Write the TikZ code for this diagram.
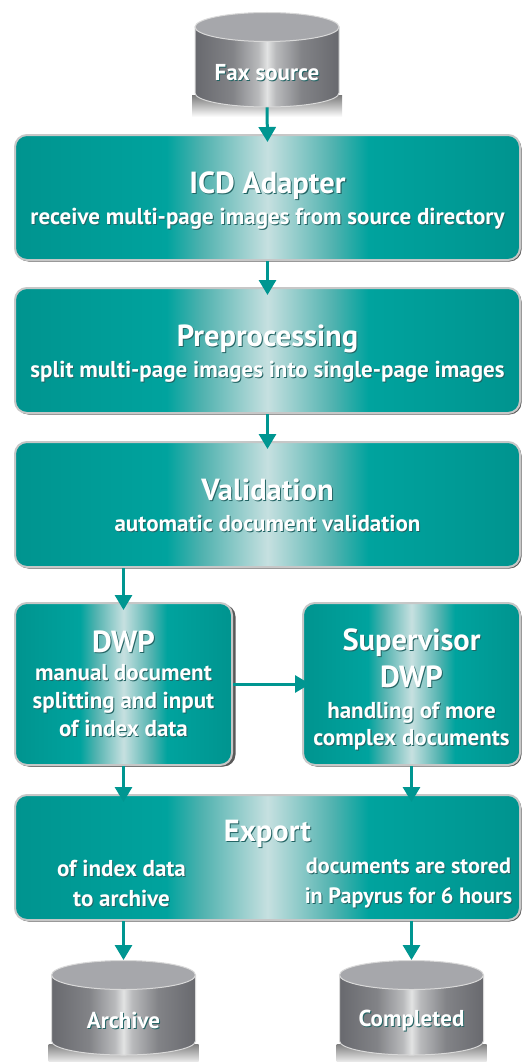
\documentclass[tikz,border=0pt]{standalone}
\usepackage{fontspec}
\setmainfont{PT Sans}
\usetikzlibrary{arrows.meta,shadows}
\definecolor{tealedge}{RGB}{0,148,143}
\definecolor{tealmain}{RGB}{0,163,158}
\definecolor{tealmid}{RGB}{80,178,175}
\definecolor{tealpale}{RGB}{198,224,224}
\definecolor{tealline}{RGB}{0,150,145}
\definecolor{tealdark}{RGB}{35,100,100}
\definecolor{drumedge}{RGB}{104,105,110}
\definecolor{drummain}{RGB}{130,131,135}
\definecolor{drummid}{RGB}{185,186,188}
\definecolor{drumpale}{RGB}{226,227,227}
\definecolor{drumtop}{RGB}{166,167,171}
\pgfdeclarehorizontalshading{tealbar}{100bp}{
  color(0bp)=(tealedge); color(25bp)=(tealedge); color(40bp)=(tealmain);
  color(43.5bp)=(tealmid); color(50bp)=(tealpale); color(56.5bp)=(tealmid);
  color(60bp)=(tealmain); color(75bp)=(tealedge); color(100bp)=(tealedge)}
\pgfdeclarehorizontalshading{drumbar}{100bp}{
  color(0bp)=(drumedge); color(25bp)=(drumedge); color(38bp)=(drummain);
  color(47bp)=(drummid); color(50bp)=(drumpale); color(53bp)=(drummid);
  color(62bp)=(drummain); color(75bp)=(drumedge); color(100bp)=(drumedge)}
\tikzset{
  stage/.style={
    rectangle,rounded corners=12pt,shading=tealbar,
    draw=black!22,line width=2pt,inner sep=0pt,
    minimum width=505pt,minimum height=125pt,
    drop shadow={shadow xshift=1.5pt,shadow yshift=-1.5pt,fill=black!65,opacity=1}
  },
  small stage/.style={stage,minimum width=217pt,minimum height=162pt},
  caption/.style={text=white,align=center,inner sep=0pt,font=\bfseries\fontsize{23}{28}\selectfont},
  flow/.style={draw=tealline,line width=3pt,-{Triangle[width=17pt,length=15pt]}},
  flow in/.style={flow,shorten >=-8pt}
}
\newcommand{\shd}[1]{\leavevmode\rlap{\kern1pt\raisebox{-1pt}{\color{tealdark}#1}}#1}
\newcommand{\head}[1]{{\fontsize{30.5}{32}\selectfont\shd{#1}}}
% name, centre x, top y, label
\newcommand{\drum}[4]{
  \shade[top color=black!50,bottom color=white] (#2-75,#3+84) rectangle (#2+75,#3+105);
  \path[shading=drumbar,draw=black!15,line width=1pt]
    (#2-72,#3+15) -- (#2-72,#3+81)
    arc[start angle=180,end angle=0,x radius=72,y radius=14]
    -- (#2+72,#3+15) -- cycle;
  \path[fill=drumtop,draw=black!15,line width=1pt]
    (#2,#3+15) ellipse[x radius=72,y radius=14.5];
  \node[minimum width=144pt,minimum height=95pt,anchor=north,inner sep=0pt] (#1) at (#2,#3) {};
  \node[caption] (#1label) at (#2,#3+61) {\shd{#4}};
}

\begin{document}
\begin{tikzpicture}[x=1pt,y=-1pt]
  \useasboundingbox (0,0) rectangle (523,1062);

  % the stores
  \drum{fax}{267}{12}{Fax source}
  \drum{archive}{123.5}{960}{Archive}
  \drum{completed}{411.5}{960}{Completed}

  % the stages
  \node[stage] (icd) at (267.5,197.5) {};
  \node[stage] (prep) at (267.5,350.5) {};
  \node[stage] (valid) at (267.5,504.5) {};
  \node[small stage,drop shadow={shadow xshift=3.5pt,shadow yshift=-1.5pt,fill=black!65,opacity=1}] (dwp) at (123.5,684) {};
  \node[small stage] (super) at (411.5,684) {};
  \node[stage] (export) at (267.5,857.5) {};

  % The labels
  \node[caption] (icdtext) at ([yshift=-4pt]icd) {\head{ICD Adapter}\\[3pt]\shd{receive multi-page images from source directory}};
  \node[caption] (preptext) at ([yshift=-3.5pt]prep) {\head{Preprocessing}\\[3pt]\shd{split multi-page images into single-page images}};
  \node[caption] (validtext) at ([yshift=-1pt]valid) {\head{Validation}\\[3pt]\shd{automatic document validation}};
  \node[caption] (dwptext) at ([yshift=0pt]dwp) {\head{DWP}\\\shd{manual document}\\\shd{splitting and input}\\\shd{of index data}};
  \node[caption] (supertext) at ([yshift=-6pt]super) {\head{Supervisor}\\[8pt]\head{DWP}\\[3pt]\shd{handling of more}\\[-1pt]\shd{complex documents}};
  \node[caption] (exporttext) at ([yshift=23pt]export) {\head{Export}};
  \node[caption] (exportleft) at ([xshift=-2pt,yshift=-26pt]export.center -| dwp) {\shd{of index data}\\[2pt]\shd{to archive}};
  \node[caption,font=\bfseries\fontsize{22.2}{28}\selectfont] (exportright) at ([xshift=-3pt,yshift=-26pt]export.center -| super) {\shd{documents are stored}\\[2pt]\shd{in Papyrus for 6 hours}};

  % The arrows
  \draw[flow] (fax.south) -- ([yshift=-8pt]icd.north);
  \draw[flow in] (icd.south) -- (prep.north);
  \draw[flow in] (prep.south) -- (valid.north);
  \draw[flow in] (valid.south -| dwp.north) -- (dwp.north);
  \draw[flow in] (dwp.east) -- (super.west);
  \draw[flow in] (dwp.south) -- (export.north -| dwp.south);
  \draw[flow in] (super.south) -- (export.north -| super.south);
  \draw[flow] (export.south -| archive.north) -- (archive.north);
  \draw[flow] (export.south -| completed.north) -- (completed.north);
\end{tikzpicture}
\end{document}
